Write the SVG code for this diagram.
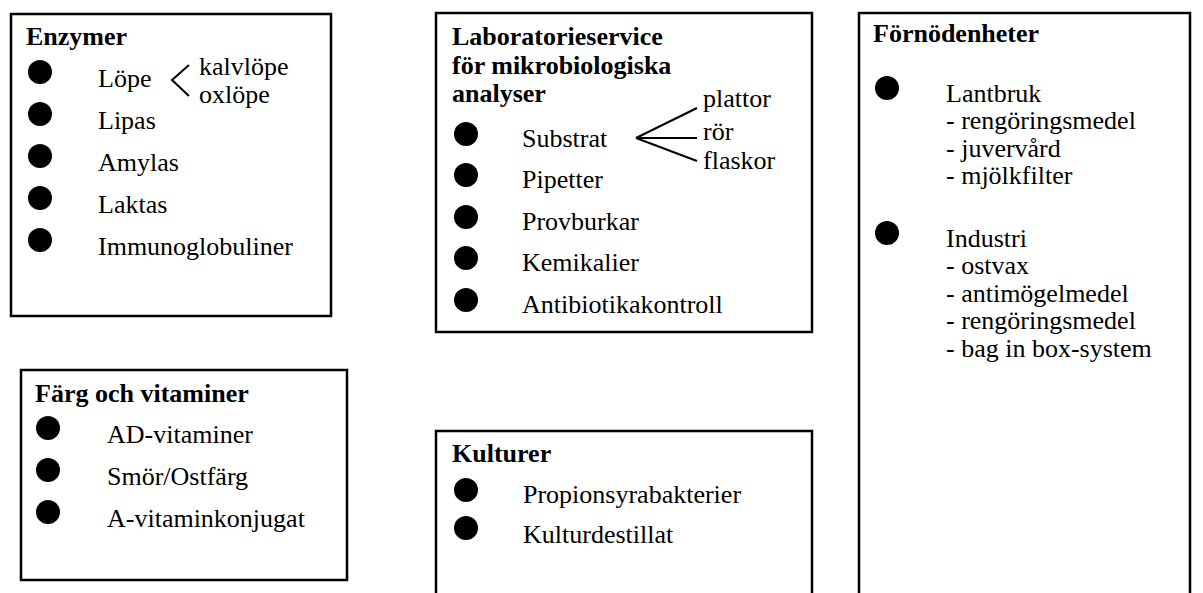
<svg xmlns="http://www.w3.org/2000/svg" width="1203" height="593" viewBox="0 0 1203 593">
<style>
.box{fill:#fff;stroke:#000;stroke-width:2.5}
.dot{fill:#000}
.ln{stroke:#000;stroke-width:2;fill:none}
</style>
<rect width="1203" height="593" fill="#fff"/>
<g id="enzymer">
<rect class="box" x="11" y="14" width="320" height="302"/>
<text x="26" y="45" font-family="Liberation Serif" font-size="26" font-weight="700">Enzymer</text>
<ellipse class="dot" cx="40" cy="72" rx="12" ry="12"/>
<ellipse class="dot" cx="40" cy="114" rx="12" ry="12"/>
<ellipse class="dot" cx="40" cy="156" rx="12" ry="12"/>
<ellipse class="dot" cx="40" cy="198" rx="12" ry="12"/>
<ellipse class="dot" cx="40" cy="240" rx="12" ry="12"/>
<text x="98" y="87" font-family="Liberation Serif" font-size="26">Löpe</text>
<text x="98" y="129" font-family="Liberation Serif" font-size="26">Lipas</text>
<text x="98" y="171" font-family="Liberation Serif" font-size="26">Amylas</text>
<text x="98" y="213" font-family="Liberation Serif" font-size="26">Laktas</text>
<text x="98" y="255" font-family="Liberation Serif" font-size="26">Immunoglobuliner</text>
<text x="199" y="75" font-family="Liberation Serif" font-size="26">kalvlöpe</text>
<text x="199" y="103" font-family="Liberation Serif" font-size="26">oxlöpe</text>
</g>
<g id="lab">
<rect class="box" x="436" y="13" width="376" height="319"/>
<text x="452" y="45" font-family="Liberation Serif" font-size="26" font-weight="700">Laboratorieservice</text>
<text x="452" y="74" font-family="Liberation Serif" font-size="26" font-weight="700">för mikrobiologiska</text>
<text x="452" y="102" font-family="Liberation Serif" font-size="26" font-weight="700">analyser</text>
<ellipse class="dot" cx="466" cy="134" rx="12" ry="12"/>
<ellipse class="dot" cx="466" cy="175" rx="12" ry="12"/>
<ellipse class="dot" cx="466" cy="217" rx="12" ry="12"/>
<ellipse class="dot" cx="466" cy="258" rx="12" ry="12"/>
<ellipse class="dot" cx="466" cy="300" rx="12" ry="12"/>
<text x="522" y="147" font-family="Liberation Serif" font-size="26">Substrat</text>
<text x="522" y="188" font-family="Liberation Serif" font-size="26">Pipetter</text>
<text x="522" y="230" font-family="Liberation Serif" font-size="26">Provburkar</text>
<text x="522" y="271" font-family="Liberation Serif" font-size="26">Kemikalier</text>
<text x="522" y="313" font-family="Liberation Serif" font-size="26">Antibiotikakontroll</text>
<text x="703" y="107" font-family="Liberation Serif" font-size="26">plattor</text>
<text x="703" y="140" font-family="Liberation Serif" font-size="26">rör</text>
<text x="703" y="169" font-family="Liberation Serif" font-size="26">flaskor</text>
</g>
<g id="fornodenheter">
<rect class="box" x="859" y="13" width="331" height="600"/>
<text x="873" y="42" font-family="Liberation Serif" font-size="26" font-weight="700">Förnödenheter</text>
<ellipse class="dot" cx="887" cy="88" rx="12" ry="12"/>
<ellipse class="dot" cx="887" cy="233" rx="12" ry="12"/>
<text x="946" y="102" font-family="Liberation Serif" font-size="26">Lantbruk</text>
<text x="946" y="129" font-family="Liberation Serif" font-size="26">- rengöringsmedel</text>
<text x="946" y="157" font-family="Liberation Serif" font-size="26">- juvervård</text>
<text x="946" y="184" font-family="Liberation Serif" font-size="26">- mjölkfilter</text>
<text x="946" y="247" font-family="Liberation Serif" font-size="26">Industri</text>
<text x="946" y="274" font-family="Liberation Serif" font-size="26">- ostvax</text>
<text x="946" y="302" font-family="Liberation Serif" font-size="26">- antimögelmedel</text>
<text x="946" y="329" font-family="Liberation Serif" font-size="26">- rengöringsmedel</text>
<text x="946" y="357" font-family="Liberation Serif" font-size="26">- bag in box-system</text>
</g>
<g id="farg">
<rect class="box" x="21" y="370" width="326" height="210"/>
<text x="35" y="402" font-family="Liberation Serif" font-size="26" font-weight="700">Färg och vitaminer</text>
<ellipse class="dot" cx="48" cy="428" rx="12" ry="12"/>
<ellipse class="dot" cx="48" cy="470" rx="12" ry="12"/>
<ellipse class="dot" cx="48" cy="512" rx="12" ry="12"/>
<text x="107" y="443" font-family="Liberation Serif" font-size="26">AD-vitaminer</text>
<text x="107" y="485" font-family="Liberation Serif" font-size="26">Smör/Ostfärg</text>
<text x="107" y="527" font-family="Liberation Serif" font-size="26">A-vitaminkonjugat</text>
</g>
<g id="kulturer">
<rect class="box" x="436" y="431" width="376" height="200"/>
<text x="452" y="462" font-family="Liberation Serif" font-size="26" font-weight="700">Kulturer</text>
<ellipse class="dot" cx="466" cy="490" rx="12" ry="12"/>
<ellipse class="dot" cx="466" cy="528" rx="12" ry="12"/>
<text x="523" y="503" font-family="Liberation Serif" font-size="26">Propionsyrabakterier</text>
<text x="523" y="543" font-family="Liberation Serif" font-size="26">Kulturdestillat</text>
</g>
<g id="connectors">
<polyline class="ln" points="189,65 172,80 189,96"/>
<line class="ln" x1="636" y1="138" x2="697" y2="108"/>
<line class="ln" x1="636" y1="138" x2="697" y2="138"/>
<line class="ln" x1="636" y1="138" x2="697" y2="161"/>
</g>
</svg>
